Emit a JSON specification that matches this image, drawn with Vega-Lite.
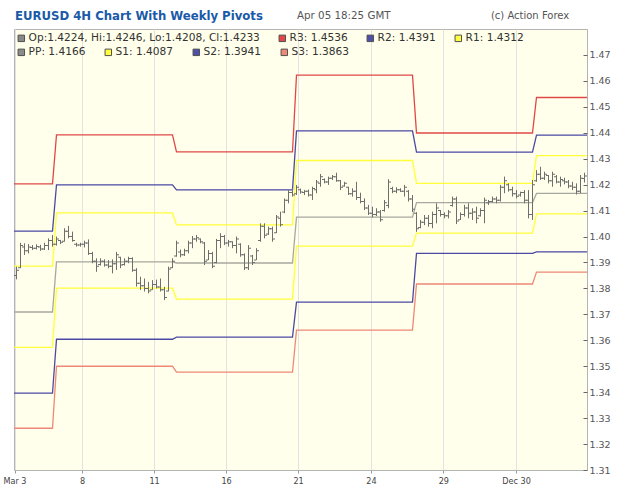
{
"$schema": "https://vega.github.io/schema/vega-lite/v6.json",
"width": 573, "height": 441,
"autosize": "none",
"padding": {"left": 14, "top": 29, "right": 38, "bottom": 29},
"background": "white",
"config": {"font": "DejaVu Sans", "view": {"fill": "#ffffeb", "stroke": "#b4b4b4", "strokeWidth": 1},
 "axisX": {"title": null, "grid": true, "gridColor": "#e2e2e2", "domain": false, "tickColor": "#999999", "tickSize": 3, "labelFontSize": 9, "labelColor": "#444444", "labelFont": "DejaVu Sans Condensed, DejaVu Sans", "labelPadding": 3, "labelFlush": false, "labelOverlap": false},
 "axisY": {"title": null, "grid": false, "domain": false, "tickSize": -4, "tickColor": "#666666", "labelColor": "#555555", "labelFontSize": 9.5, "labelPadding": 6, "labelOverlap": false, "labelFlush": false},
 "legend": {"title": null, "orient": "none", "legendX": 2, "direction": "horizontal", "columnPadding": 17, "symbolType": "square", "symbolSize": 42, "symbolStrokeColor": "#505050", "symbolStrokeWidth": 1, "symbolOpacity": 1, "labelFontSize": 10.6, "labelColor": "#333333", "labelOffset": 2, "padding": 0, "labelLimit": 400}
},
"datasets": {
"bars": [
{"i":0,"o":1.3850,"h":1.3884,"l":1.3835,"c":1.3870},
{"i":1,"o":1.3880,"h":1.3976,"l":1.3878,"c":1.3965},
{"i":2,"o":1.3960,"h":1.3974,"l":1.3929,"c":1.3945},
{"i":3,"o":1.3945,"h":1.3971,"l":1.3935,"c":1.3960},
{"i":4,"o":1.3958,"h":1.3967,"l":1.3948,"c":1.3955},
{"i":5,"o":1.3955,"h":1.3970,"l":1.3950,"c":1.3962},
{"i":6,"o":1.3960,"h":1.3968,"l":1.3945,"c":1.3952},
{"i":7,"o":1.3952,"h":1.3976,"l":1.3948,"c":1.3965},
{"i":8,"o":1.3965,"h":1.3993,"l":1.3948,"c":1.3985},
{"i":9,"o":1.3985,"h":1.4006,"l":1.3961,"c":1.3970},
{"i":10,"o":1.3970,"h":1.4000,"l":1.3965,"c":1.3990},
{"i":11,"o":1.3985,"h":1.3987,"l":1.3971,"c":1.3978},
{"i":12,"o":1.3982,"h":1.4032,"l":1.3980,"c":1.4020},
{"i":13,"o":1.4020,"h":1.4041,"l":1.3993,"c":1.4000},
{"i":14,"o":1.4000,"h":1.4019,"l":1.3980,"c":1.3985},
{"i":15,"o":1.3970,"h":1.3976,"l":1.3961,"c":1.3967},
{"i":16,"o":1.3967,"h":1.3976,"l":1.3961,"c":1.3970},
{"i":17,"o":1.3970,"h":1.3984,"l":1.3958,"c":1.3975},
{"i":18,"o":1.3975,"h":1.3989,"l":1.3929,"c":1.3935},
{"i":19,"o":1.3935,"h":1.3941,"l":1.3897,"c":1.3905},
{"i":20,"o":1.3905,"h":1.3916,"l":1.3864,"c":1.3885},
{"i":21,"o":1.3892,"h":1.3916,"l":1.3888,"c":1.3905},
{"i":22,"o":1.3905,"h":1.3912,"l":1.3884,"c":1.3890},
{"i":23,"o":1.3890,"h":1.3909,"l":1.3878,"c":1.3885},
{"i":24,"o":1.3885,"h":1.3912,"l":1.3858,"c":1.3895},
{"i":25,"o":1.3895,"h":1.3941,"l":1.3871,"c":1.3930},
{"i":26,"o":1.3920,"h":1.3922,"l":1.3878,"c":1.3890},
{"i":27,"o":1.3892,"h":1.3916,"l":1.3888,"c":1.3905},
{"i":28,"o":1.3905,"h":1.3922,"l":1.3897,"c":1.3915},
{"i":29,"o":1.3915,"h":1.3920,"l":1.3864,"c":1.3870},
{"i":30,"o":1.3870,"h":1.3878,"l":1.3807,"c":1.3820},
{"i":31,"o":1.3820,"h":1.3845,"l":1.3794,"c":1.3810},
{"i":32,"o":1.3810,"h":1.3838,"l":1.3788,"c":1.3800},
{"i":33,"o":1.3800,"h":1.3825,"l":1.3781,"c":1.3790},
{"i":34,"o":1.3795,"h":1.3832,"l":1.3794,"c":1.3815},
{"i":35,"o":1.3815,"h":1.3834,"l":1.3800,"c":1.3805},
{"i":36,"o":1.3805,"h":1.3838,"l":1.3788,"c":1.3795},
{"i":37,"o":1.3795,"h":1.3806,"l":1.3755,"c":1.3765},
{"i":38,"o":1.3790,"h":1.3884,"l":1.3788,"c":1.3875},
{"i":39,"o":1.3880,"h":1.3916,"l":1.3878,"c":1.3905},
{"i":40,"o":1.3925,"h":1.3984,"l":1.3922,"c":1.3975},
{"i":41,"o":1.3940,"h":1.3950,"l":1.3920,"c":1.3930},
{"i":42,"o":1.3930,"h":1.3953,"l":1.3925,"c":1.3945},
{"i":43,"o":1.3945,"h":1.3984,"l":1.3935,"c":1.3975},
{"i":44,"o":1.3975,"h":1.4002,"l":1.3955,"c":1.3990},
{"i":45,"o":1.3990,"h":1.4006,"l":1.3980,"c":1.3995},
{"i":46,"o":1.3990,"h":1.3993,"l":1.3974,"c":1.3980},
{"i":47,"o":1.3975,"h":1.3979,"l":1.3890,"c":1.3905},
{"i":48,"o":1.3910,"h":1.3948,"l":1.3909,"c":1.3935},
{"i":49,"o":1.3935,"h":1.3941,"l":1.3878,"c":1.3885},
{"i":50,"o":1.3900,"h":1.3991,"l":1.3897,"c":1.3985},
{"i":51,"o":1.3985,"h":1.4013,"l":1.3955,"c":1.4000},
{"i":52,"o":1.4000,"h":1.4006,"l":1.3967,"c":1.3975},
{"i":53,"o":1.3975,"h":1.3987,"l":1.3961,"c":1.3980},
{"i":54,"o":1.3980,"h":1.3982,"l":1.3955,"c":1.3965},
{"i":55,"o":1.3965,"h":1.4000,"l":1.3935,"c":1.3990},
{"i":56,"o":1.3970,"h":1.3974,"l":1.3922,"c":1.3930},
{"i":57,"o":1.3930,"h":1.3935,"l":1.3871,"c":1.3880},
{"i":58,"o":1.3880,"h":1.3967,"l":1.3871,"c":1.3955},
{"i":59,"o":1.3925,"h":1.3929,"l":1.3890,"c":1.3900},
{"i":60,"o":1.3910,"h":1.3955,"l":1.3909,"c":1.3945},
{"i":61,"o":1.3985,"h":1.4051,"l":1.3980,"c":1.4040},
{"i":62,"o":1.4040,"h":1.4051,"l":1.3993,"c":1.4005},
{"i":63,"o":1.4010,"h":1.4038,"l":1.4006,"c":1.4030},
{"i":64,"o":1.4030,"h":1.4038,"l":1.3980,"c":1.3990},
{"i":65,"o":1.4015,"h":1.4083,"l":1.4013,"c":1.4075},
{"i":66,"o":1.4070,"h":1.4096,"l":1.4038,"c":1.4045},
{"i":67,"o":1.4095,"h":1.4147,"l":1.4090,"c":1.4140},
{"i":68,"o":1.4140,"h":1.4179,"l":1.4128,"c":1.4170},
{"i":69,"o":1.4170,"h":1.4186,"l":1.4154,"c":1.4160},
{"i":70,"o":1.4165,"h":1.4199,"l":1.4160,"c":1.4190},
{"i":71,"o":1.4180,"h":1.4185,"l":1.4165,"c":1.4172},
{"i":72,"o":1.4170,"h":1.4179,"l":1.4160,"c":1.4175},
{"i":73,"o":1.4175,"h":1.4181,"l":1.4154,"c":1.4160},
{"i":74,"o":1.4160,"h":1.4192,"l":1.4141,"c":1.4185},
{"i":75,"o":1.4180,"h":1.4218,"l":1.4167,"c":1.4210},
{"i":76,"o":1.4205,"h":1.4241,"l":1.4192,"c":1.4230},
{"i":77,"o":1.4220,"h":1.4224,"l":1.4205,"c":1.4210},
{"i":78,"o":1.4210,"h":1.4231,"l":1.4199,"c":1.4225},
{"i":79,"o":1.4225,"h":1.4237,"l":1.4218,"c":1.4230},
{"i":80,"o":1.4230,"h":1.4246,"l":1.4211,"c":1.4215},
{"i":81,"o":1.4215,"h":1.4218,"l":1.4179,"c":1.4190},
{"i":82,"o":1.4195,"h":1.4211,"l":1.4192,"c":1.4205},
{"i":83,"o":1.4190,"h":1.4192,"l":1.4160,"c":1.4165},
{"i":84,"o":1.4165,"h":1.4186,"l":1.4154,"c":1.4175},
{"i":85,"o":1.4175,"h":1.4211,"l":1.4141,"c":1.4150},
{"i":86,"o":1.4150,"h":1.4169,"l":1.4128,"c":1.4135},
{"i":87,"o":1.4135,"h":1.4147,"l":1.4102,"c":1.4110},
{"i":88,"o":1.4110,"h":1.4122,"l":1.4083,"c":1.4090},
{"i":89,"o":1.4090,"h":1.4115,"l":1.4074,"c":1.4085},
{"i":90,"o":1.4085,"h":1.4109,"l":1.4079,"c":1.4095},
{"i":91,"o":1.4095,"h":1.4102,"l":1.4057,"c":1.4065},
{"i":92,"o":1.4100,"h":1.4141,"l":1.4096,"c":1.4130},
{"i":93,"o":1.4120,"h":1.4221,"l":1.4109,"c":1.4210},
{"i":94,"o":1.4185,"h":1.4192,"l":1.4167,"c":1.4175},
{"i":95,"o":1.4175,"h":1.4190,"l":1.4167,"c":1.4180},
{"i":96,"o":1.4180,"h":1.4186,"l":1.4172,"c":1.4175},
{"i":97,"o":1.4175,"h":1.4199,"l":1.4154,"c":1.4190},
{"i":98,"o":1.4175,"h":1.4179,"l":1.4135,"c":1.4145},
{"i":99,"o":1.4145,"h":1.4160,"l":1.4094,"c":1.4105},
{"i":100,"o":1.4090,"h":1.4094,"l":1.4018,"c":1.4030},
{"i":101,"o":1.4035,"h":1.4064,"l":1.4032,"c":1.4055},
{"i":102,"o":1.4055,"h":1.4083,"l":1.4044,"c":1.4070},
{"i":103,"o":1.4070,"h":1.4083,"l":1.4038,"c":1.4050},
{"i":104,"o":1.4050,"h":1.4096,"l":1.4032,"c":1.4085},
{"i":105,"o":1.4085,"h":1.4128,"l":1.4051,"c":1.4110},
{"i":106,"o":1.4100,"h":1.4102,"l":1.4077,"c":1.4085},
{"i":107,"o":1.4085,"h":1.4093,"l":1.4070,"c":1.4080},
{"i":108,"o":1.4080,"h":1.4102,"l":1.4070,"c":1.4095},
{"i":109,"o":1.4120,"h":1.4154,"l":1.4115,"c":1.4145},
{"i":110,"o":1.4145,"h":1.4154,"l":1.4048,"c":1.4060},
{"i":111,"o":1.4065,"h":1.4093,"l":1.4064,"c":1.4085},
{"i":112,"o":1.4085,"h":1.4122,"l":1.4077,"c":1.4110},
{"i":113,"o":1.4110,"h":1.4128,"l":1.4070,"c":1.4090},
{"i":114,"o":1.4090,"h":1.4109,"l":1.4064,"c":1.4095},
{"i":115,"o":1.4095,"h":1.4115,"l":1.4051,"c":1.4070},
{"i":116,"o":1.4080,"h":1.4109,"l":1.4077,"c":1.4100},
{"i":117,"o":1.4100,"h":1.4150,"l":1.4051,"c":1.4140},
{"i":118,"o":1.4130,"h":1.4141,"l":1.4122,"c":1.4135},
{"i":119,"o":1.4135,"h":1.4154,"l":1.4132,"c":1.4145},
{"i":120,"o":1.4145,"h":1.4154,"l":1.4128,"c":1.4140},
{"i":121,"o":1.4140,"h":1.4199,"l":1.4135,"c":1.4190},
{"i":122,"o":1.4190,"h":1.4231,"l":1.4167,"c":1.4215},
{"i":123,"o":1.4200,"h":1.4205,"l":1.4173,"c":1.4180},
{"i":124,"o":1.4180,"h":1.4192,"l":1.4154,"c":1.4165},
{"i":125,"o":1.4165,"h":1.4179,"l":1.4147,"c":1.4155},
{"i":126,"o":1.4160,"h":1.4173,"l":1.4154,"c":1.4170},
{"i":127,"o":1.4170,"h":1.4179,"l":1.4128,"c":1.4140},
{"i":128,"o":1.4140,"h":1.4179,"l":1.4070,"c":1.4085},
{"i":129,"o":1.4085,"h":1.4218,"l":1.4064,"c":1.4200},
{"i":130,"o":1.4215,"h":1.4256,"l":1.4211,"c":1.4240},
{"i":131,"o":1.4240,"h":1.4269,"l":1.4218,"c":1.4225},
{"i":132,"o":1.4225,"h":1.4250,"l":1.4218,"c":1.4240},
{"i":133,"o":1.4235,"h":1.4237,"l":1.4205,"c":1.4215},
{"i":134,"o":1.4215,"h":1.4250,"l":1.4192,"c":1.4240},
{"i":135,"o":1.4230,"h":1.4237,"l":1.4205,"c":1.4210},
{"i":136,"o":1.4210,"h":1.4231,"l":1.4192,"c":1.4220},
{"i":137,"o":1.4215,"h":1.4227,"l":1.4201,"c":1.4210},
{"i":138,"o":1.4210,"h":1.4218,"l":1.4186,"c":1.4195},
{"i":139,"o":1.4195,"h":1.4211,"l":1.4179,"c":1.4190},
{"i":140,"o":1.4190,"h":1.4205,"l":1.4162,"c":1.4175},
{"i":141,"o":1.4175,"h":1.4237,"l":1.4167,"c":1.4225},
{"i":142,"o":1.4224,"h":1.4246,"l":1.4208,"c":1.4233}
],
"piv": [
{"s":"R3: 1.4536","i":-0.625,"v":1.4203},{"s":"R3: 1.4536","i":9,"v":1.4203},{"s":"R3: 1.4536","i":10,"v":1.4392},{"s":"R3: 1.4536","i":39,"v":1.4392},{"s":"R3: 1.4536","i":40,"v":1.4326},{"s":"R3: 1.4536","i":69,"v":1.4326},{"s":"R3: 1.4536","i":70,"v":1.4622},{"s":"R3: 1.4536","i":99,"v":1.4622},{"s":"R3: 1.4536","i":100,"v":1.4399},{"s":"R3: 1.4536","i":129,"v":1.4399},{"s":"R3: 1.4536","i":130,"v":1.4536},{"s":"R3: 1.4536","i":142.625,"v":1.4536},
{"s":"R2: 1.4391","i":-0.625,"v":1.4021},{"s":"R2: 1.4391","i":9,"v":1.4021},{"s":"R2: 1.4391","i":10,"v":1.4199},{"s":"R2: 1.4391","i":39,"v":1.4199},{"s":"R2: 1.4391","i":40,"v":1.4180},{"s":"R2: 1.4391","i":69,"v":1.4180},{"s":"R2: 1.4391","i":70,"v":1.4407},{"s":"R2: 1.4391","i":99,"v":1.4407},{"s":"R2: 1.4391","i":100,"v":1.4325},{"s":"R2: 1.4391","i":129,"v":1.4325},{"s":"R2: 1.4391","i":130,"v":1.4391},{"s":"R2: 1.4391","i":142.625,"v":1.4391},
{"s":"R1: 1.4312","i":-0.625,"v":1.3886},{"s":"R1: 1.4312","i":9,"v":1.3886},{"s":"R1: 1.4312","i":10,"v":1.4091},{"s":"R1: 1.4312","i":39,"v":1.4091},{"s":"R1: 1.4312","i":40,"v":1.4045},{"s":"R1: 1.4312","i":69,"v":1.4045},{"s":"R1: 1.4312","i":70,"v":1.4293},{"s":"R1: 1.4312","i":99,"v":1.4293},{"s":"R1: 1.4312","i":100,"v":1.4205},{"s":"R1: 1.4312","i":129,"v":1.4205},{"s":"R1: 1.4312","i":130,"v":1.4312},{"s":"R1: 1.4312","i":142.625,"v":1.4312},
{"s":"PP: 1.4166","i":-0.625,"v":1.3709},{"s":"PP: 1.4166","i":9,"v":1.3709},{"s":"PP: 1.4166","i":10,"v":1.3902},{"s":"PP: 1.4166","i":39,"v":1.3902},{"s":"PP: 1.4166","i":40,"v":1.3898},{"s":"PP: 1.4166","i":69,"v":1.3898},{"s":"PP: 1.4166","i":70,"v":1.4075},{"s":"PP: 1.4166","i":99,"v":1.4075},{"s":"PP: 1.4166","i":100,"v":1.4131},{"s":"PP: 1.4166","i":129,"v":1.4131},{"s":"PP: 1.4166","i":130,"v":1.4166},{"s":"PP: 1.4166","i":142.625,"v":1.4166},
{"s":"S1: 1.4087","i":-0.625,"v":1.3573},{"s":"S1: 1.4087","i":9,"v":1.3573},{"s":"S1: 1.4087","i":10,"v":1.3801},{"s":"S1: 1.4087","i":39,"v":1.3801},{"s":"S1: 1.4087","i":40,"v":1.3759},{"s":"S1: 1.4087","i":69,"v":1.3759},{"s":"S1: 1.4087","i":70,"v":1.3963},{"s":"S1: 1.4087","i":99,"v":1.3963},{"s":"S1: 1.4087","i":100,"v":1.4013},{"s":"S1: 1.4087","i":129,"v":1.4013},{"s":"S1: 1.4087","i":130,"v":1.4087},{"s":"S1: 1.4087","i":142.625,"v":1.4087},
{"s":"S2: 1.3941","i":-0.625,"v":1.3396},{"s":"S2: 1.3941","i":9,"v":1.3396},{"s":"S2: 1.3941","i":10,"v":1.3604},{"s":"S2: 1.3941","i":39,"v":1.3604},{"s":"S2: 1.3941","i":40,"v":1.3612},{"s":"S2: 1.3941","i":69,"v":1.3612},{"s":"S2: 1.3941","i":70,"v":1.3747},{"s":"S2: 1.3941","i":99,"v":1.3747},{"s":"S2: 1.3941","i":100,"v":1.3935},{"s":"S2: 1.3941","i":129,"v":1.3935},{"s":"S2: 1.3941","i":130,"v":1.3941},{"s":"S2: 1.3941","i":142.625,"v":1.3941},
{"s":"S3: 1.3863","i":-0.625,"v":1.3261},{"s":"S3: 1.3863","i":9,"v":1.3261},{"s":"S3: 1.3863","i":10,"v":1.3500},{"s":"S3: 1.3863","i":39,"v":1.3500},{"s":"S3: 1.3863","i":40,"v":1.3477},{"s":"S3: 1.3863","i":69,"v":1.3477},{"s":"S3: 1.3863","i":70,"v":1.3639},{"s":"S3: 1.3863","i":99,"v":1.3639},{"s":"S3: 1.3863","i":100,"v":1.3817},{"s":"S3: 1.3863","i":129,"v":1.3817},{"s":"S3: 1.3863","i":130,"v":1.3863},{"s":"S3: 1.3863","i":142.625,"v":1.3863}
],
"notes": [
{"t": "EURUSD 4H Chart With Weekly Pivots"},
{"t": "Apr 05 18:25 GMT"},
{"t": "(c) Action Forex"}
]
},
"layer": [
{"data": {"name": "piv"},
 "mark": {"type": "line", "strokeWidth": 1.3},
 "encoding": {
  "x": {"field": "i", "type": "quantitative", "scale": {"domain": [-0.625, 142.625], "nice": false, "zero": false},
   "axis": {"values": [-0.5, 16.4, 34.4, 52.4, 70.4, 88.6, 106.7, 124.9], "tickCount": 30, "labelExpr": "datum.value < 0 ? 'Mar 3' : datum.value < 20 ? '8' : datum.value < 40 ? '11' : datum.value < 60 ? '16' : datum.value < 80 ? '21' : datum.value < 100 ? '24' : datum.value < 115 ? '29' : 'Dec 30'"}},
  "y": {"field": "v", "type": "quantitative", "scale": {"domain": [1.31, 1.48], "nice": false, "zero": false},
   "axis": {"orient": "right", "values": [1.31,1.32,1.33,1.34,1.35,1.36,1.37,1.38,1.39,1.40,1.41,1.42,1.43,1.44,1.45,1.46,1.47], "tickCount": 40, "format": ".2f", "labelOverlap": false}},
  "stroke": {"field": "s", "type": "nominal", "legend": null, "scale": {"domain": ["R3: 1.4536", "R2: 1.4391", "R1: 1.4312", "PP: 1.4166", "S1: 1.4087", "S2: 1.3941", "S3: 1.3863"], "range": ["#e04848", "#4a4aa6", "#ffff3a", "#a8a8a0", "#ffff3a", "#4a4aa6", "#f08878"]}}
 }},
{"data": {"name": "bars"},
 "mark": {"type": "rule", "color": "#6e6e6e", "strokeWidth": 1},
 "encoding": {
  "x": {"field": "i", "type": "quantitative"},
  "y": {"field": "l", "type": "quantitative"},
  "y2": {"field": "h"}
 }},
{"data": {"name": "bars"},
 "mark": {"type": "tick", "orient": "horizontal", "size": 2, "thickness": 1, "xOffset": -1.5, "color": "#6e6e6e", "opacity": 1},
 "encoding": {
  "x": {"field": "i", "type": "quantitative"},
  "y": {"field": "o", "type": "quantitative"}
 }},
{"data": {"name": "bars"},
 "mark": {"type": "tick", "orient": "horizontal", "size": 2, "thickness": 1, "xOffset": 1.5, "color": "#6e6e6e", "opacity": 1},
 "encoding": {
  "x": {"field": "i", "type": "quantitative"},
  "y": {"field": "c", "type": "quantitative"}
 }},
{"data": {"name": "piv"},
 "transform": [{"filter": "false"}],
 "mark": {"type": "square", "stroke": "#505050", "strokeWidth": 1, "opacity": 1},
 "encoding": {
  "x": {"field": "i", "type": "quantitative"},
  "y": {"field": "v", "type": "quantitative"},
  "fill": {"field": "s", "type": "nominal",
   "scale": {"domain": ["Op:1.4224, Hi:1.4246, Lo:1.4208, Cl:1.4233", "R3: 1.4536", "R2: 1.4391", "R1: 1.4312"], "range": ["#888888", "#e04848", "#5050a8", "#ffff40"]},
   "legend": {"legendY": 4}}
 }},
{"data": {"name": "piv"},
 "transform": [{"filter": "false"}],
 "mark": {"type": "square", "filled": true, "stroke": "#505050", "strokeWidth": 1, "opacity": 1},
 "encoding": {
  "x": {"field": "i", "type": "quantitative"},
  "y": {"field": "v", "type": "quantitative"},
  "color": {"field": "s", "type": "nominal",
   "scale": {"domain": ["PP: 1.4166", "S1: 1.4087", "S2: 1.3941", "S3: 1.3863"], "range": ["#8c8c8c", "#ffff40", "#5050a8", "#f08878"]},
   "legend": {"legendY": 18}}
 }},
{"data": {"name": "notes"},
 "transform": [{"filter": "datum.t == 'EURUSD 4H Chart With Weekly Pivots'"}],
 "mark": {"type": "text", "clip": false, "align": "left", "baseline": "alphabetic", "font": "DejaVu Sans Condensed, DejaVu Sans", "fontSize": 13, "fontWeight": "bold", "color": "#1a5aa8"},
 "encoding": {"x": {"datum": -0.375}, "y": {"datum": 1.48347}, "text": {"field": "t"}}},
{"data": {"name": "notes"},
 "transform": [{"filter": "datum.t == 'Apr 05 18:25 GMT'"}],
 "mark": {"type": "text", "clip": false, "align": "left", "baseline": "alphabetic", "fontSize": 10.3, "color": "#555555"},
 "encoding": {"x": {"datum": 70.125}, "y": {"datum": 1.48385}, "text": {"field": "t"}}},
{"data": {"name": "notes"},
 "transform": [{"filter": "datum.t == '(c) Action Forex'"}],
 "mark": {"type": "text", "clip": false, "align": "left", "baseline": "alphabetic", "fontSize": 10, "color": "#555555"},
 "encoding": {"x": {"datum": 118.6}, "y": {"datum": 1.48385}, "text": {"field": "t"}}}
]
}
